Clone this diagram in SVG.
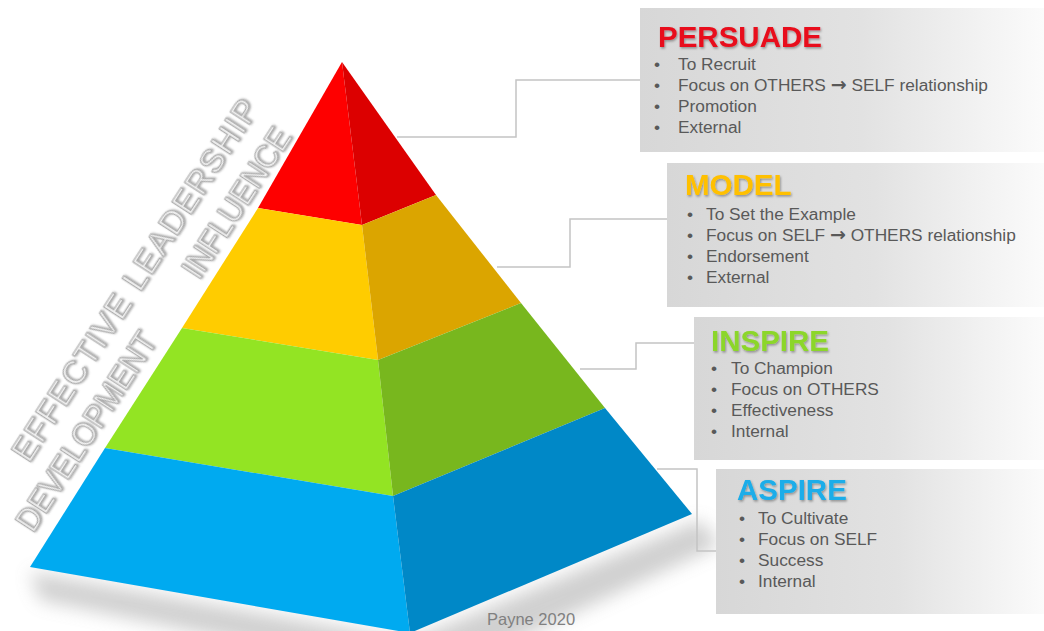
<svg xmlns="http://www.w3.org/2000/svg" width="1044" height="631" viewBox="0 0 1044 631">
  <defs>
    <linearGradient id="boxFill" x1="0" y1="0" x2="1" y2="0">
      <stop offset="0" stop-color="#d7d7d7"/>
      <stop offset="0.55" stop-color="#e2e2e2"/>
      <stop offset="1" stop-color="#fbfbfb"/>
    </linearGradient>
    <filter id="titleShadow" x="-10%" y="-30%" width="120%" height="160%">
      <feDropShadow dx="1" dy="1.5" stdDeviation="1.2" flood-color="#000" flood-opacity="0.35"/>
    </filter>
    <filter id="emboss" x="-10%" y="-30%" width="120%" height="160%">
      <feDropShadow dx="1" dy="1" stdDeviation="0.9" flood-color="#555" flood-opacity="0.6"/>
    </filter>
    <filter id="soft" x="-20%" y="-50%" width="140%" height="200%">
      <feGaussianBlur stdDeviation="9"/>
    </filter>
    <style>
      .title { font-family: "Liberation Sans", Arial, sans-serif; font-weight: bold; font-size: 29.5px; filter: url(#titleShadow); }
      .item { font-family: "Liberation Sans", Arial, sans-serif; font-size: 17.3px; fill: #595959; }
      .arrow { font-family: "DejaVu Sans", sans-serif; font-weight: bold; font-size: 19px; }
      .side { font-family: "Liberation Sans", Arial, sans-serif; font-size: 32.5px; fill: #f2f2f2; stroke: #adadad; stroke-width: 1.2; filter: url(#emboss); }
      .conn { fill: none; stroke: #c4c4c4; stroke-width: 1.5; }
      .box { fill: url(#boxFill); }
      .credit { font-family: "Liberation Sans", Arial, sans-serif; font-size: 16.5px; fill: #808080; }
    </style>
  </defs>

  <rect width="1044" height="631" fill="#ffffff"/>

  <!-- soft ground shadow under the pyramid base -->
  <path d="M30,572 L410,640 L700,520 L720,545 L430,680 L40,600 Z" fill="#8a8a8a" opacity="0.4" filter="url(#soft)"/>

  <!-- connectors -->
  <g id="connectors">
    <path class="conn" d="M397,137 H516 V80 H640"/>
    <path class="conn" d="M497,267 H570 V219 H667"/>
    <path class="conn" d="M580,369 H636 V343 H694"/>
    <path class="conn" d="M657,469 H697 V551 H716"/>
  </g>

  <!-- pyramid tiers -->
  <g id="tier-persuade">
    <polygon points="342,62 258,208 362,225" fill="#fe0000"/>
    <polygon points="342,62 362,225 436,195" fill="#dc0000"/>
  </g>
  <g id="tier-model">
    <polygon points="258,208 182,328 378,360 362,225" fill="#ffcc00"/>
    <polygon points="362,225 378,360 521,303 436,195" fill="#dba500"/>
  </g>
  <g id="tier-inspire">
    <polygon points="182,328 105,448 393,496 378,360" fill="#93e423"/>
    <polygon points="378,360 393,496 605,408 521,303" fill="#78b71e"/>
  </g>
  <g id="tier-aspire">
    <polygon points="105,448 30,567 410,633 393,496" fill="#00aaf0"/>
    <polygon points="393,496 410,633 692,514 605,408" fill="#0088c7"/>
  </g>

  <!-- side captions along the left edge -->
  <g id="side-labels">
    <text class="side" transform="translate(29,464) rotate(-57)" textLength="424" lengthAdjust="spacing">EFFECTIVE LEADERSHIP</text>
    <text class="side" transform="translate(199,281) rotate(-57)" textLength="172" lengthAdjust="spacingAndGlyphs">INFLUENCE</text>
    <text class="side" transform="translate(33,534) rotate(-57)" textLength="230" lengthAdjust="spacingAndGlyphs">DEVELOPMENT</text>
  </g>

  <!-- PERSUADE -->
  <g id="box-persuade">
    <rect class="box" x="640" y="8" width="404" height="144"/>
    <text class="title" x="658" y="47" fill="#e8111b">PERSUADE</text>
    <g class="item">
      <text x="654" y="69.5">•</text><text x="678" y="69.5">To Recruit</text>
      <text x="654" y="90.5">•</text><text x="678" y="90.5">Focus on OTHERS <tspan class="arrow">→</tspan> SELF relationship</text>
      <text x="654" y="111.5">•</text><text x="678" y="111.5">Promotion</text>
      <text x="654" y="132.5">•</text><text x="678" y="132.5">External</text>
    </g>
  </g>

  <!-- MODEL -->
  <g id="box-model">
    <rect class="box" x="667" y="163" width="377" height="144"/>
    <text class="title" x="685" y="195" fill="#ffc000">MODEL</text>
    <g class="item">
      <text x="687" y="220">•</text><text x="706" y="220">To Set the Example</text>
      <text x="687" y="241">•</text><text x="706" y="241">Focus on SELF <tspan class="arrow">→</tspan> OTHERS relationship</text>
      <text x="687" y="262">•</text><text x="706" y="262">Endorsement</text>
      <text x="687" y="283">•</text><text x="706" y="283">External</text>
    </g>
  </g>

  <!-- INSPIRE -->
  <g id="box-inspire">
    <rect class="box" x="694" y="317" width="350" height="143"/>
    <text class="title" x="711" y="351" fill="#8cd62a">INSPIRE</text>
    <g class="item">
      <text x="711" y="374">•</text><text x="731" y="374">To Champion</text>
      <text x="711" y="395">•</text><text x="731" y="395">Focus on OTHERS</text>
      <text x="711" y="416">•</text><text x="731" y="416">Effectiveness</text>
      <text x="711" y="437">•</text><text x="731" y="437">Internal</text>
    </g>
  </g>

  <!-- ASPIRE -->
  <g id="box-aspire">
    <rect class="box" x="716" y="469" width="328" height="145"/>
    <text class="title" x="737" y="500" fill="#1aade9">ASPIRE</text>
    <g class="item">
      <text x="739" y="524">•</text><text x="758" y="524">To Cultivate</text>
      <text x="739" y="545">•</text><text x="758" y="545">Focus on SELF</text>
      <text x="739" y="566">•</text><text x="758" y="566">Success</text>
      <text x="739" y="587">•</text><text x="758" y="587">Internal</text>
    </g>
  </g>

  <text id="credit" class="credit" x="487" y="625">Payne 2020</text>
</svg>
